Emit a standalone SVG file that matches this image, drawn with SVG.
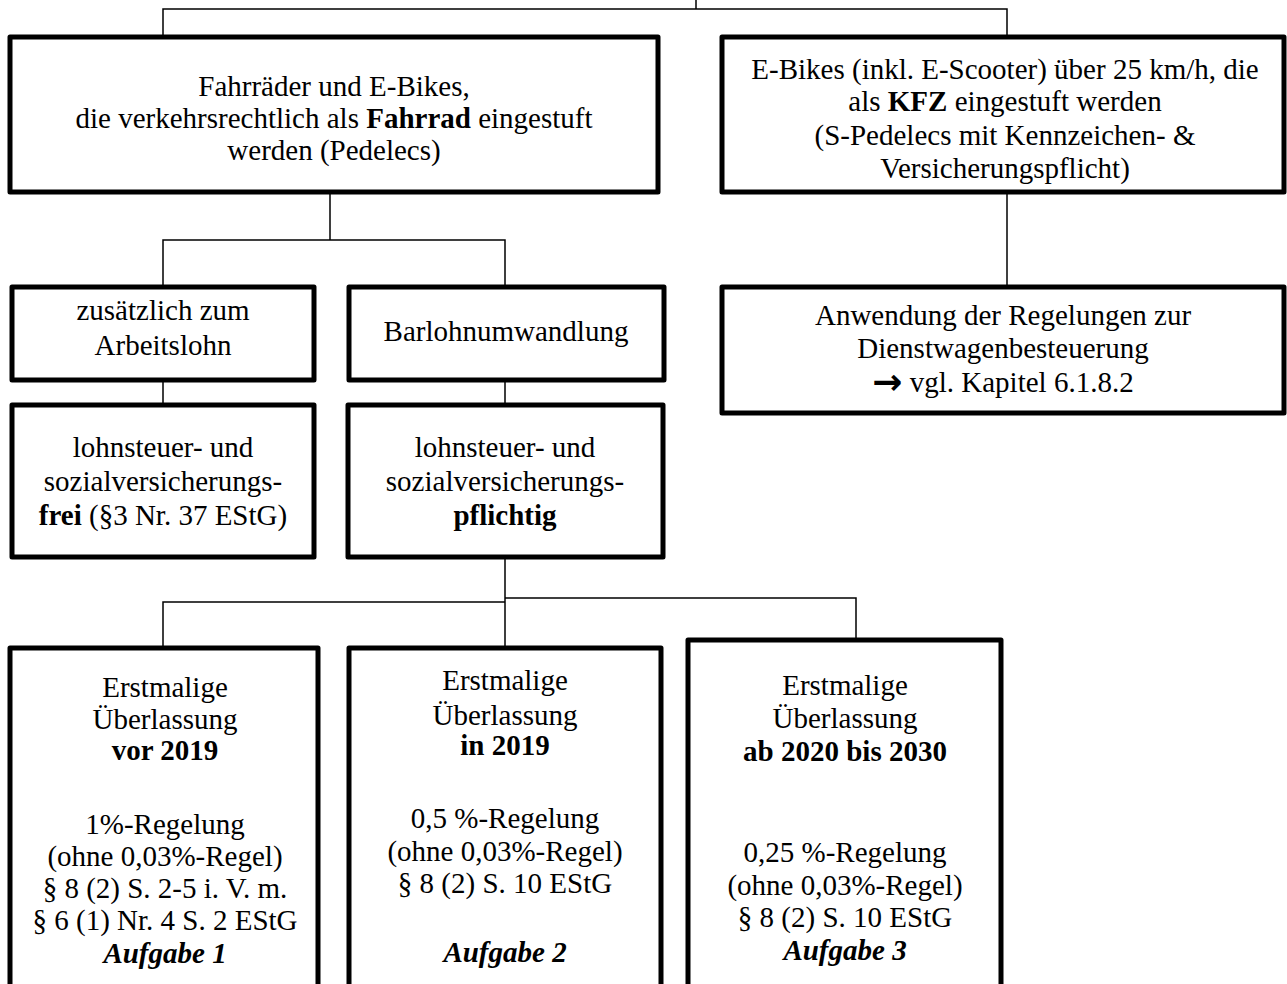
<svg xmlns="http://www.w3.org/2000/svg" width="1287" height="984" viewBox="0 0 1287 984">
<style>
.box{fill:#fff;stroke:#000;stroke-width:5;stroke-linejoin:round}
.con{fill:none;stroke:#000;stroke-width:1.5}
text{font-family:"Liberation Serif","Times New Roman",serif;font-size:29px;fill:#000;text-anchor:middle}
.b{font-weight:bold}
.bi{font-weight:bold;font-style:italic}
.s30{font-size:30px}
.arr{font-family:"DejaVu Sans",sans-serif;font-weight:bold;font-size:36px}
</style>
<rect width="1287" height="984" fill="#fff"/>
<g id="connectors">
<path class="con" d="M696 0V9M163 37V9H1007V37"/>
<path class="con" d="M330 192V240M163 287V240H505V287"/>
<path class="con" d="M1007 192V287"/>
<path class="con" d="M163 380V405M505 380V405"/>
<path class="con" d="M505 557V648M163 648V602H505M505 598H856V640"/>
</g>
<g id="n1">
<rect class="box" x="10" y="37" width="648" height="155"/>
<text x="334" y="96">Fahrräder und E-Bikes,</text>
<text x="334" y="128">die verkehrsrechtlich als <tspan class="b">Fahrrad</tspan> eingestuft</text>
<text x="334" y="160">werden (Pedelecs)</text>
</g>
<g id="n2">
<rect class="box" x="722" y="37" width="562" height="155"/>
<text x="1005" y="79">E-Bikes (inkl. E-Scooter) über 25 km/h, die</text>
<text x="1005" y="111">als <tspan class="b">KFZ</tspan> eingestuft werden</text>
<text x="1005" y="145">(S-Pedelecs mit Kennzeichen- &amp;</text>
<text x="1005" y="178">Versicherungspflicht)</text>
</g>
<g id="n3">
<rect class="box" x="12" y="287" width="302" height="93"/>
<text x="163" y="320">zusätzlich zum</text>
<text x="163" y="355">Arbeitslohn</text>
</g>
<g id="n4">
<rect class="box" x="349" y="287" width="315" height="93"/>
<text x="506" y="341">Barlohnumwandlung</text>
</g>
<g id="n5">
<rect class="box" x="722" y="287" width="562" height="126"/>
<text x="1003" y="325">Anwendung der Regelungen zur</text>
<text x="1003" y="358">Dienstwagenbesteuerung</text>
<text x="1003" y="392"><tspan class="arr" dy="2">→</tspan><tspan dy="-2"> vgl. Kapitel 6.1.8.2</tspan></text>
</g>
<g id="n6">
<rect class="box" x="12" y="405" width="302" height="152"/>
<text x="163" y="457">lohnsteuer- und</text>
<text x="163" y="491">sozialversicherungs-</text>
<text x="163" y="525"><tspan class="b">frei</tspan> (§3 Nr. 37 EStG)</text>
</g>
<g id="n7">
<rect class="box" x="348" y="405" width="315" height="152"/>
<text x="505" y="457">lohnsteuer- und</text>
<text x="505" y="491">sozialversicherungs-</text>
<text x="505" y="525" class="b">pflichtig</text>
</g>
<g id="n8">
<rect class="box" x="10" y="648" width="308" height="345"/>
<g class="s30">
<text x="165" y="697">Erstmalige</text>
<text x="165" y="729">Überlassung</text>
<text x="165" y="760" class="b">vor 2019</text>
<text x="165" y="834">1%-Regelung</text>
<text x="165" y="866">(ohne 0,03%-Regel)</text>
<text x="165" y="898">§ 8 (2) S. 2-5 i. V. m.</text>
<text x="165" y="930">§ 6 (1) Nr. 4 S. 2 EStG</text>
<text x="165" y="963" class="bi">Aufgabe 1</text>
</g>
</g>
<g id="n9">
<rect class="box" x="349" y="648" width="312" height="345"/>
<g class="s30">
<text x="505" y="690">Erstmalige</text>
<text x="505" y="725">Überlassung</text>
<text x="505" y="755" class="b">in 2019</text>
<text x="505" y="828">0,5 %-Regelung</text>
<text x="505" y="861">(ohne 0,03%-Regel)</text>
<text x="505" y="893">§ 8 (2) S. 10 EStG</text>
<text x="505" y="962" class="bi">Aufgabe 2</text>
</g>
</g>
<g id="n10">
<rect class="box" x="688" y="640" width="313" height="353"/>
<g class="s30">
<text x="845" y="695">Erstmalige</text>
<text x="845" y="728">Überlassung</text>
<text x="845" y="761" class="b">ab 2020 bis 2030</text>
<text x="845" y="862">0,25 %-Regelung</text>
<text x="845" y="895">(ohne 0,03%-Regel)</text>
<text x="845" y="927">§ 8 (2) S. 10 EStG</text>
<text x="845" y="960" class="bi">Aufgabe 3</text>
</g>
</g>
</svg>
